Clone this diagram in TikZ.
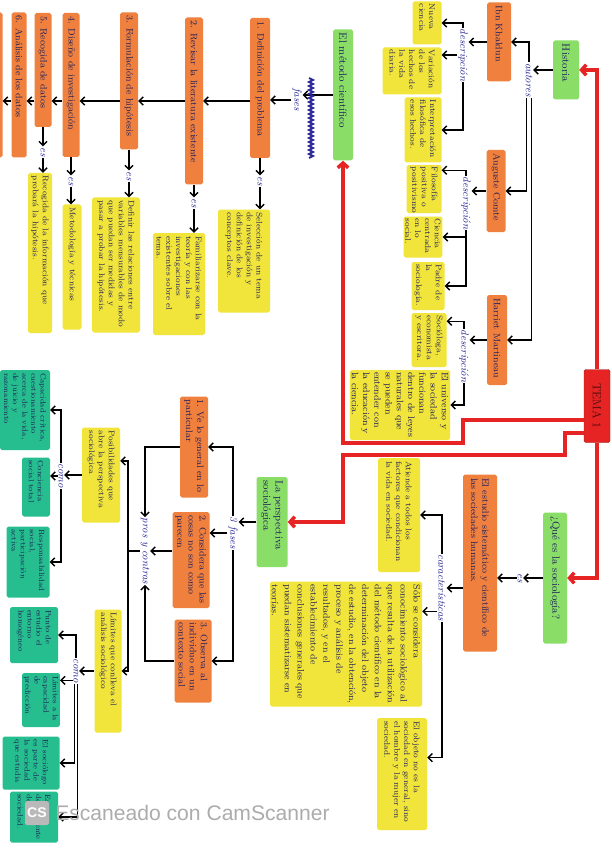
\documentclass[tikz,border=0pt]{standalone}
\usepackage{fontspec}
\usepackage{graphicx}
\usetikzlibrary{arrows.meta,positioning}
\newfontfamily\scanfont{Liberation Sans}
\newlength\px \setlength\px{0.03cm}
\newcommand\vtxt[2]{\rotatebox{-90}{\parbox{#1\px}{\raggedright\hyphenpenalty=10000 #2}}}
\newcommand\gira[1]{\rotatebox{-90}{#1}}
\definecolor{naranja}{RGB}{239,128,62}
\definecolor{amarillo}{RGB}{241,228,58}
\definecolor{verde}{RGB}{138,222,104}
\definecolor{turquesa}{RGB}{38,190,142}
\definecolor{rojo}{RGB}{230,36,36}
\definecolor{tinta}{RGB}{30,30,90}
\definecolor{azul}{RGB}{40,40,150}

\begin{document}
\begin{tikzpicture}[x=0.03cm, y=-0.03cm,
    caja/.style={inner sep=1.5pt, rounded corners=1.5pt, text=tinta},
    tam/.style 2 args={minimum width=#1*\px, minimum height=#2*\px},
    fase/.style={caja, fill=naranja, font=\fontsize{8}{9.5}\selectfont},
    nota/.style={caja, fill=amarillo, font=\fontsize{7}{8.4}\selectfont},
    hoja/.style={caja, fill=turquesa, font=\fontsize{6.5}{7.8}\selectfont},
    titulo/.style={caja, fill=verde, font=\fontsize{9}{10.5}\selectfont},
    raiz/.style={caja, fill=rojo, draw=rojo!70!black, text=rojo!35!black, font=\fontsize{10}{11}\selectfont},
    etiq/.style={inner sep=0.5pt, text=azul, font=\itshape\fontsize{9}{10}\selectfont},
    flecha/.style={draw=black, line width=1.2pt, -{Straight Barb[length=3.5pt,width=7pt]}},
    enlace/.style={draw=rojo, line width=3pt, -{Straight Barb[length=4pt,width=9pt]}}]
    \useasboundingbox (0,0) rectangle (611,848);
    \fill[white] (0,0) rectangle (611,848);
    \clip (0,0) rectangle (611,848);

    \node[raiz, tam={26}{73}] (tema) at (597,406) {\vtxt{66}{\centering TEMA 1}};

    % historia
    \node[titulo, tam={26}{59}] (hist) at (566,70) {\vtxt{52}{Historia}};
    \node[etiq] (autores) at (529,80) {\gira{autores}};
    \node[fase, tam={24}{79}] (ibn) at (499,42) {\vtxt{72}{Ibn Khaldun}};
    \node[fase, tam={19}{82}] (comte) at (496,191) {\vtxt{75}{Auguste Comte}};
    \node[fase, tam={20}{90}] (martineau) at (497,340) {\vtxt{83}{Harriet Martineau}};
    \node[etiq] (desc1) at (463,55) {\gira{descripción}};
    \node[etiq] (desc2) at (466,203) {\gira{descripción}};
    \node[etiq] (desc3) at (464,356) {\gira{descripción}};
    \node[nota, tam={29}{43}] (nueva) at (427,23) {\vtxt{38}{Nueva ciencia}};
    \node[nota, tam={59}{47}] (variacion) at (412,71) {\vtxt{42}{Variación de los hechos de la vida diaria.}};
    \node[nota, tam={37}{65}] (interp) at (423,130) {\vtxt{60}{Interpretación filosófica de esos hechos.}};
    \node[nota, tam={35}{48}] (filos) at (424,189) {\vtxt{44}{Filosofía positiva o positivismo}};
    \node[nota, tam={37}{41}] (ciencia) at (423,237) {\vtxt{37}{Ciencia centrada en lo social.}};
    \node[nota, tam={33}{48}] (padre) at (428,286) {\vtxt{44}{Padre de la sociología.}};
    \node[nota, tam={35}{54}] (sociologa) at (429,340) {\vtxt{50}{Socióloga, economista y escritora.}};
    \node[nota, tam={95}{70}, font=\fontsize{8}{9.6}\selectfont] (universo) at (400,405) {\vtxt{66}{El universo y la sociedad funcionan dentro de leyes naturales que se pueden entender con la educación y la ciencia.}};

    % metodo cientifico
    \node[titulo, tam={20}{131}] (metodo) at (343,95) {\vtxt{124}{El método científico}};
    \node[etiq] (fases) at (297,100) {\gira{fases}};
    \node[fase, tam={20}{140}] (f1) at (260,88) {\vtxt{133}{1. Definición del problema}};
    \node[fase, tam={18}{167}] (f2) at (194,101) {\vtxt{160}{2. Revisar la literatura existente}};
    \node[fase, tam={18}{137}] (f3) at (129,81) {\vtxt{130}{3. Formulación de hipótesis}};
    \node[fase, tam={17}{144}] (f4) at (71,85) {\vtxt{137}{4. Diseño de investigación}};
    \node[fase, tam={17}{114}] (f5) at (43,70) {\vtxt{107}{5. Recogida de datos}};
    \node[fase, tam={15}{145}] (f6) at (19,85) {\vtxt{138}{6. Análisis de los datos}};
    \node[fase, tam={17}{145}] (f7) at (-6,85) {\vtxt{138}{7. Conclusiones}};
    \node[etiq] (es1) at (260,181) {\gira{es}};
    \node[etiq] (es2) at (194,203) {\gira{es}};
    \node[etiq] (es3) at (129,176) {\gira{es}};
    \node[etiq] (es4) at (71,181) {\gira{es}};
    \node[etiq] (es5) at (43,152) {\gira{es}};
    \node[nota, tam={52}{103}] (seleccion) at (244,261) {\vtxt{97}{Selección de un tema de investigación y definición de los conceptos clave.}};
    \node[nota, tam={52}{102}] (familiar) at (179,284) {\vtxt{96}{Familiarizarse con la teoría y con las investigaciones existentes sobre el tema.}};
    \node[nota, tam={48}{135}] (definir) at (116,265) {\vtxt{129}{Definir las relaciones entre variables mensurables de modo que puedan ser medidas y pasar a probar la hipótesis.}};
    \node[nota, tam={19}{125}] (metodologia) at (72,267) {\vtxt{119}{Metodología y técnicas}};
    \node[nota, tam={24}{160}] (recogida) at (40,253) {\vtxt{154}{Recogida de la información que probará la hipótesis.}};

    % que es la sociologia
    \node[titulo, tam={24}{131}] (quees) at (555,578) {\vtxt{124}{¿Qué es la sociología?}};
    \node[etiq] (es6) at (520,578) {\gira{es}};
    \node[fase, tam={34}{177}] (estudio) at (480,563) {\vtxt{170}{El estudio sistemático y científico de las sociedades humanas.}};
    \node[etiq] (caract) at (442,588) {\gira{características}};
    \node[nota, tam={42}{114}] (atiende) at (399,515) {\vtxt{108}{Atiende a todos los factores que condicionan la vida en sociedad.}};
    \node[nota, tam={152}{125}, font=\fontsize{8}{11}\selectfont] (solo) at (346,644) {\vtxt{119}{Sólo se considera conocimiento sociológico al que resulta de la utilización del método científico en la determinación del objeto de estudio, en la obtención, proceso y análisis de resultados, y en el establecimiento de conclusiones generales que puedan sistematizarse en teorías.}};
    \node[nota, tam={50}{112}] (objeto) at (402,774) {\vtxt{106}{El objeto no es la sociedad en general, sino el hombre y la mujer en sociedad.}};

    % perspectiva sociologica
    \node[titulo, tam={31}{90}] (persp) at (272,522) {\vtxt{83}{La perspectiva sociológica}};
    \node[etiq] (tresfases) at (233,533) {\gira{3 fases}};
    \node[fase, tam={28}{101}] (v1) at (194,447) {\vtxt{95}{1. Ve lo general en lo particular}};
    \node[fase, tam={37}{96}] (v2) at (191,560) {\vtxt{90}{2. Considera que las cosas no son como parecen}};
    \node[fase, tam={37}{83}] (v3) at (193,661) {\vtxt{77}{3. Observa al individuo en un contexto social}};
    \node[etiq] (pros) at (145,551) {\gira{pros y contras}};
    \coordinate (union) at (128,551);
    \node[nota, tam={38}{95}] (posib) at (101,475) {\vtxt{89}{Posibilidades que abre la perspectiva sociológica}};
    \node[nota, tam={27}{123}] (limites) at (108,671) {\vtxt{117}{Límites que conlleva el análisis sociológico}};
    \node[etiq] (como1) at (61,476) {\gira{como}};
    \node[etiq] (como2) at (76,671) {\gira{como}};
    \node[hoja, tam={50}{80}] (t1) at (25,410) {\vtxt{74}{Capacidad crítica, cuestionamiento acerca de la vida, de juicio y razonamiento}};
    \node[hoja, tam={28}{59}] (t2) at (36,487) {\vtxt{53}{Conciencia social total}};
    \node[hoja, tam={43}{71}] (t3) at (28,562) {\vtxt{65}{Responsabilidad social, participación activa}};
    \node[hoja, tam={48}{56}] (t4) at (34,635) {\vtxt{50}{Punto de estudio el entorno homogéneo}};
    \node[hoja, tam={32}{54}] (t5) at (41,700) {\vtxt{48}{Límites a la capacidad de predicción}};
    \node[hoja, tam={57}{53}] (t6) at (31,763) {\vtxt{47}{El sociólogo es parte de la sociedad que estudia}};
    \node[hoja, tam={48}{51}] (t7) at (34,817) {\vtxt{45}{Es dependiente de la sociedad.}};

    % enlaces rojos
    \coordinate (r1) at (463,443);
    \coordinate (r2) at (565,455);
    \coordinate (r3) at (343,522);
    \draw[enlace] (tema.north) |- (hist.east);
    \draw[enlace] (tema.south) |- (quees.east);
    \draw[enlace] (tema.west) ++(0,14) -| (r1) -| (metodo.south);
    \draw[enlace] (tema.west) ++(0,27) -| (r2) -| (r3) -- (persp.east);

    % historia
    \draw[flecha] (hist.west) -- (hist.west -| autores.east);
    \draw[flecha] (autores.north) |- (ibn.east);
    \draw[flecha] ([xshift=-2pt]autores.south) |- (comte.east);
    \draw[flecha] ([xshift=2pt]autores.south) |- (martineau.east);
    \draw[flecha] (ibn.west) -- (ibn.west -| desc1.east);
    \draw[flecha] (desc1.north) |- (nueva.east);
    \draw[flecha] (desc1.west) -- (desc1.west -| variacion.east);
    \draw[flecha] (desc1.south) |- (interp.east);
    \draw[flecha] (comte.west) -- (comte.west -| desc2.east);
    \draw[flecha] (desc2.north) |- ([yshift=16pt]filos.east);
    \draw[flecha] (desc2.south) |- (ciencia.east);
    \draw[flecha] (desc2.south) |- (padre.east);
    \draw[flecha] (martineau.west) -- (martineau.west -| desc3.east);
    \draw[flecha] (desc3.north) |- ([yshift=16pt]sociologa.east);
    \draw[flecha] (desc3.south) |- (universo.east);

    % fases del metodo
    \draw[flecha] (metodo.west) -- (metodo.west -| fases.east);
    \draw[flecha] (fases.west) -- (fases.west -| f1.east);
    \draw[flecha] (f1.west |- f2.west) -- (f2.east);
    \foreach \a/\b in {f2/f3, f3/f4, f4/f5, f5/f6, f6/f7}
        \draw[flecha] (\a.west |- f2.west) -- (\b.east |- f2.west);
    \foreach \f/\e/\n in {f1/es1/seleccion, f2/es2/familiar, f3/es3/definir, f4/es4/metodologia, f5/es5/recogida} {
        \draw[flecha] (\f) -- (\e);
        \draw[flecha] (\e) -- (\e |- \n.north);
    }
    \draw[azul, line width=1.6pt] (309,78) \foreach \k in {0,...,19} { -- (313,80+4*\k) -- (309,82+4*\k) };

    % que es
    \draw[flecha] (quees) -- (es6);
    \draw[flecha] (es6) -- (es6 -| estudio.east);
    \draw[flecha] (estudio.west |- caract) -- (caract);
    \draw[flecha] (caract.north) |- (atiende.east);
    \draw[flecha] ([yshift=-20pt]caract.west) -- ([yshift=-20pt]caract.west -| solo.east);
    \draw[flecha] (caract.south) |- ([yshift=14pt]objeto.east);

    % perspectiva
    \draw[flecha] (persp.west) -- (persp.west -| tresfases.east);
    \draw[flecha] (tresfases.north) |- (v1.east);
    \draw[flecha] (tresfases.west) -- (tresfases.west -| v2.east);
    \draw[flecha] (tresfases.south) |- (v3.east);
    \draw[flecha] (v1.west) -| (pros.north);
    \draw[flecha] (v2.west |- pros.east) -- (pros.east);
    \draw[flecha] (v3.west) -| (pros.south);
    \draw[line width=1.2pt] (pros.west) -- (union);
    \draw[flecha] (union) |- ([yshift=12pt]posib.east);
    \draw[flecha] (union) |- (limites.east);
    \draw[flecha] (posib.west) -- (posib.west -| como1.east);
    \draw[flecha] (como1.north) |- (t1.east);
    \draw[flecha] (como1.west) -- (como1.west -| t2.east);
    \draw[flecha] (como1.south) |- (t3.east);
    \draw[flecha] (limites.west) -- (limites.west -| como2.east);
    \draw[flecha] (como2.north) |- (t4.east);
    \draw[flecha] ([yshift=-8pt]como2.west) -- ([yshift=-8pt]como2.west -| t5.east);
    \draw[flecha] ([xshift=-1.5pt]como2.south) |- (t6.east);
    \draw[flecha] ([xshift=1.5pt]como2.south) |- (t7.east);

    \node[fill=gray!55, rounded corners=2pt, text=white, minimum size=24*\px, inner sep=0pt,
        font=\scanfont\bfseries\fontsize{12}{12}\selectfont] (cs) at (37,813) {CS};
    \node[right=5pt of cs, inner sep=0pt, text=gray!65,
        font=\scanfont\fontsize{18}{18}\selectfont] (marca) {Escaneado con CamScanner};
\end{tikzpicture}
\end{document}
